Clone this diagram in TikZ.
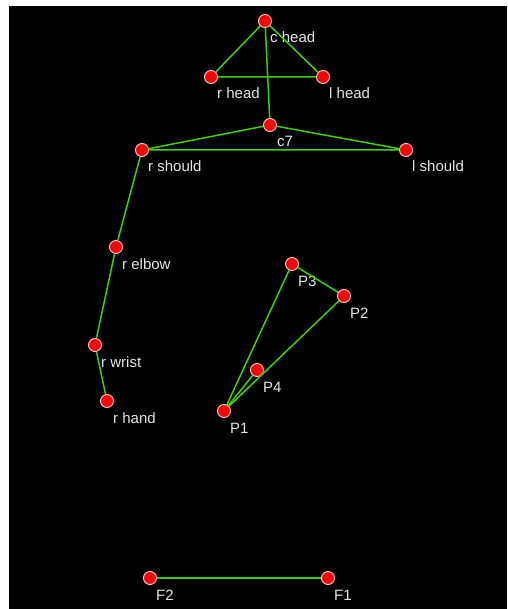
\documentclass[tikz,border=0pt]{standalone}
\usepackage{fontspec}
\setmainfont{Liberation Sans}
\usepackage{xcolor}
\usepackage{tikz}
\usetikzlibrary{positioning}

\definecolor{bone}{RGB}{60,210,0}
\definecolor{dotrim}{RGB}{255,205,205}
\definecolor{tagtext}{RGB}{228,228,228}

\begin{document}
\begin{tikzpicture}[
  x=1pt, y=-1pt,
  joint/.style={circle, fill=red, draw=dotrim, line width=0.9pt, minimum size=13pt, inner sep=0pt},
  tag/.style={anchor=base west, inner sep=0pt, text=tagtext, font=\fontsize{15}{15}\selectfont},
  bone/.style={draw=bone, line width=1.5pt},
]
\useasboundingbox (0,0) rectangle (507,609);
\fill[white] (0,0) rectangle (507,609);
\fill[black] (9,6) rectangle (507,609);

% head and trunk
\node[joint] (chead) at (265,21) {};
\node[joint] (rhead) at (211,77) {};
\node[joint] (lhead) at (323,77) {};
\node[joint] (c7) at (270,125) {};
\node[joint] (rshould) at (142,150) {};
\node[joint] (lshould) at (406,150) {};

% right arm
\node[joint] (relbow) at (116,247) {};
\node[joint] (rwrist) at (95,345) {};
\node[joint] (rhand) at (107,401) {};

% object
\node[joint] (P3) at (292,264) {};
\node[joint] (P2) at (344,296) {};
\node[joint] (P4) at (257,370) {};
\node[joint] (P1) at (224,411) {};

% floor
\node[joint] (F2) at (150,578) {};
\node[joint] (F1) at (328,578) {};

\node[tag] (cheadT) at ([xshift=5pt,yshift=-22pt]chead.center) {c head};
\node[tag] (rheadT) at ([xshift=6pt,yshift=-22pt]rhead.center) {r head};
\node[tag] (lheadT) at ([xshift=6pt,yshift=-22pt]lhead.center) {l head};
\node[tag] (c7T) at ([xshift=7pt,yshift=-22pt]c7.center) {c7};
\node[tag] (rshouldT) at ([xshift=6pt,yshift=-22pt]rshould.center) {r should};
\node[tag] (lshouldT) at ([xshift=6pt,yshift=-22pt]lshould.center) {l should};
\node[tag] (relbowT) at ([xshift=6pt,yshift=-22pt]relbow.center) {r elbow};
\node[tag] (rwristT) at ([xshift=6pt,yshift=-22pt]rwrist.center) {r wrist};
\node[tag] (rhandT) at ([xshift=6pt,yshift=-22pt]rhand.center) {r hand};
\node[tag] (P3T) at ([xshift=6pt,yshift=-22pt]P3.center) {P3};
\node[tag] (P2T) at ([xshift=6pt,yshift=-22pt]P2.center) {P2};
\node[tag] (P4T) at ([xshift=6pt,yshift=-22pt]P4.center) {P4};
\node[tag] (P1T) at ([xshift=6pt,yshift=-22pt]P1.center) {P1};
\node[tag] (F2T) at ([xshift=6pt,yshift=-22pt]F2.center) {F2};
\node[tag] (F1T) at ([xshift=6pt,yshift=-22pt]F1.center) {F1};

\draw[bone] (chead) -- (rhead) -- (lhead) -- (chead);
\draw[bone] (chead) -- (c7);
\draw[bone] (c7) -- (rshould) -- (lshould) -- (c7);
\draw[bone] (rshould) -- (relbow) -- (rwrist) -- (rhand);
\draw[bone] (P1) -- (P3) -- (P2) -- (P1);
\draw[bone] (P1) -- (P4);
\draw[bone] (F2) -- (F1);
\end{tikzpicture}
\end{document}
